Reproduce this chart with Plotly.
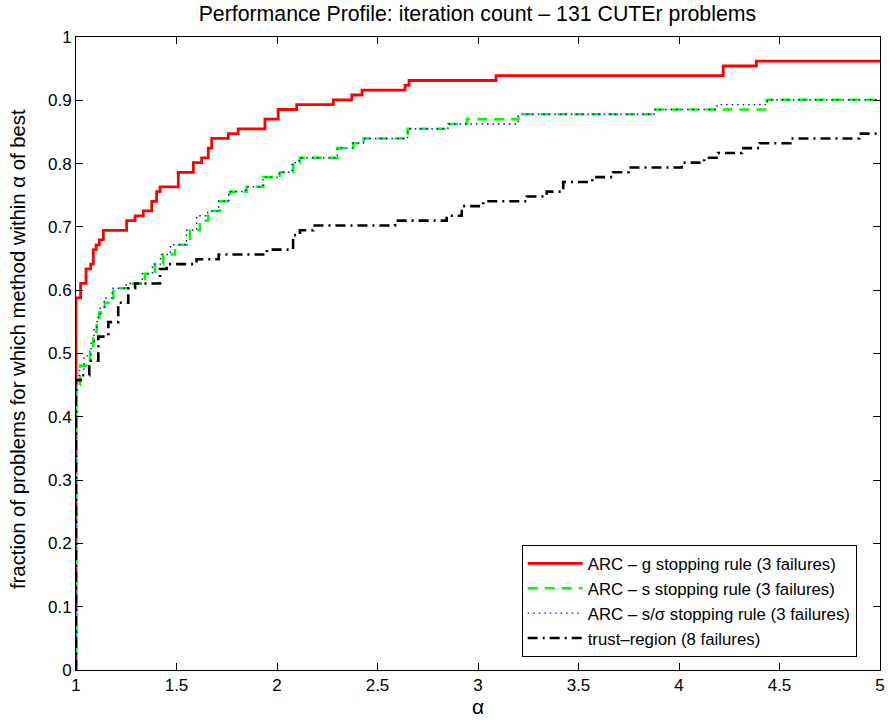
import plotly.graph_objects as go

N_PROBLEMS = 131

# ARC - g stopping rule
alpha_g = [1.0, 1.0, 1.023, 1.05, 1.073, 1.086, 1.10, 1.116, 1.136, 1.252, 1.294, 1.335,
           1.377, 1.401, 1.418, 1.509, 1.584, 1.625, 1.658, 1.675, 1.758, 1.807, 1.94,
           2.006, 2.098, 2.28, 2.372, 2.423, 2.637, 2.657, 3.09, 4.22, 4.385, 5.0]
count_g = [0, 77, 80, 83, 84, 87, 88, 89, 91, 93, 94, 95,
           97, 99, 100, 103, 105, 106, 108, 110, 111, 112, 114,
           116, 117, 118, 119, 120, 121, 122, 123, 125, 126, 126]

# ARC - s stopping rule
alpha_s = [1.0, 1.0, 1.006, 1.02, 1.07, 1.086, 1.103, 1.116, 1.144, 1.186, 1.26, 1.343,
           1.393, 1.434, 1.493, 1.567, 1.617, 1.658, 1.716, 1.766, 1.849, 1.932, 2.015,
           2.081, 2.114, 2.30, 2.38, 2.431, 2.65, 2.851, 2.945, 3.201, 3.886, 4.437, 5.0]
count_s = [0, 58, 59, 63, 66, 70, 72, 74, 76, 79, 80, 82,
           84, 86, 88, 91, 93, 95, 97, 99, 100, 102, 103,
           105, 106, 108, 109, 110, 112, 113, 114, 115, 116, 118, 118]

# ARC - s/sigma stopping rule
alpha_ss = [1.0, 1.0, 1.004, 1.015, 1.04, 1.075, 1.09, 1.105, 1.12, 1.14, 1.18, 1.25, 1.33,
            1.38, 1.42, 1.47, 1.55, 1.60, 1.655, 1.71, 1.76, 1.845, 1.93, 2.01, 2.075,
            2.11, 2.30, 2.375, 2.43, 2.65, 2.85, 3.2, 3.88, 4.19, 4.44, 5.0]
count_ss = [0, 59, 60, 62, 65, 68, 71, 73, 75, 77, 79, 80, 82,
            84, 86, 88, 91, 94, 95, 97, 99, 100, 102, 103, 105,
            106, 108, 109, 110, 112, 113, 115, 116, 117, 118, 118]

# trust-region
alpha_tr = [1.0, 1.0, 1.023, 1.066, 1.111, 1.161, 1.21, 1.26, 1.294, 1.418, 1.451, 1.60,
            1.71, 1.95, 2.08, 2.114, 2.18, 2.587, 2.844, 2.919, 3.026, 3.242, 3.342,
            3.424, 3.569, 3.672, 3.749, 4.014, 4.125, 4.194, 4.313, 4.40, 4.554, 4.896, 5.0]
count_tr = [0, 60, 61, 64, 69, 72, 76, 79, 80, 83, 84, 85,
            86, 87, 90, 91, 92, 93, 94, 96, 97, 98, 99,
            101, 102, 103, 104, 105, 106, 107, 108, 109, 110, 111, 111]

series = [
    ("ARC \u2013 g stopping rule (3 failures)", alpha_g, count_g, "#ff0000", "solid", 2.8),
    ("ARC \u2013 s stopping rule (3 failures)", alpha_s, count_s, "#00ff00", "10px,7px", 2.6),
    ("ARC \u2013 s/\u03c3 stopping rule (3 failures)", alpha_ss, count_ss, "#0000ff", "1.5px,4px", 1.4),
    ("trust\u2013region (8 failures)", alpha_tr, count_tr, "#000000", "10px,5px,2px,5px", 2.6),
]

x_ticks = [1, 1.5, 2, 2.5, 3, 3.5, 4, 4.5, 5]
x_tick_labels = ["1", "1.5", "2", "2.5", "3", "3.5", "4", "4.5", "5"]
y_ticks = [0, 0.1, 0.2, 0.3, 0.4, 0.5, 0.6, 0.7, 0.8, 0.9, 1.0]
y_tick_labels = ["0", "0.1", "0.2", "0.3", "0.4", "0.5", "0.6", "0.7", "0.8", "0.9", "1"]

fig = go.Figure()
for name, a, c, color, dash, w in series:
    fig.add_trace(go.Scatter(
        x=a, y=[v / N_PROBLEMS for v in c], mode="lines", name=name,
        line=dict(color=color, dash=dash, width=w, shape="hv"),
    ))

font_family = "Liberation Sans, Arial, Helvetica, sans-serif"
axis_common = dict(
    showline=True, linecolor="black", linewidth=1, mirror="ticks",
    ticks="inside", ticklen=7, tickcolor="black", tickwidth=1,
    showgrid=False, zeroline=False, automargin=False,
    tickfont=dict(family=font_family, size=17, color="black"),
)

fig.update_layout(
    width=889, height=720,
    margin=dict(l=76, r=9, t=37, b=50),
    paper_bgcolor="white", plot_bgcolor="white",
    font=dict(family=font_family, color="black"),
    title=dict(text="Performance Profile: iteration count \u2013 131 CUTEr problems",
               x=0.537, xanchor="center", y=0.981, yanchor="middle",
               font=dict(size=21.3, color="black")),
    xaxis=dict(range=[1, 5], tickvals=x_ticks, ticktext=x_tick_labels,
               title=dict(text="\u03b1", font=dict(size=21), standoff=2), **axis_common),
    yaxis=dict(range=[0, 1], tickvals=y_ticks, ticktext=y_tick_labels, **axis_common),
    legend=dict(x=0.971, y=0.0205, xanchor="right", yanchor="bottom",
                bgcolor="white", bordercolor="black", borderwidth=1,
                font=dict(size=16.8, color="black"), itemwidth=55,
                tracegroupgap=0),
    showlegend=True,
    annotations=[dict(
        text="fraction of problems for which method within \u03b1 of best",
        xref="paper", yref="paper", x=-0.0722, y=0.507,
        xanchor="center", yanchor="middle", textangle=-90, showarrow=False,
        font=dict(size=20.3, color="black"),
    )],
)

fig.write_html("out.html", config={"displayModeBar": False},
               post_script="document.body.style.margin='0px';")
